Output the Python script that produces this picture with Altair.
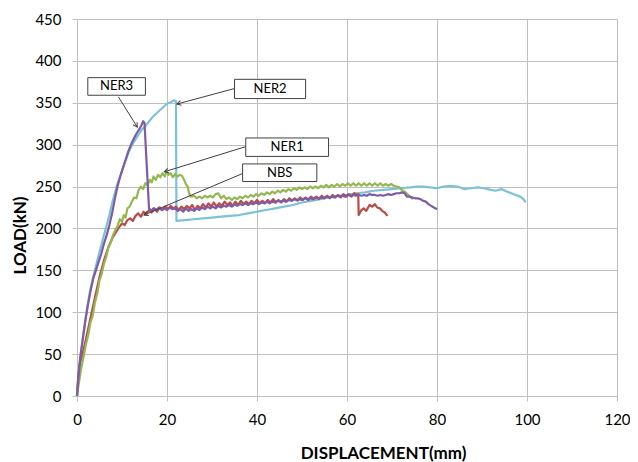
import math
import altair as alt
import pandas as pd

# ---------------- data ----------------
nbs_x = [0, 0.3, 0.6, 1, 2, 3, 4, 5, 6, 7, 8, 8.7, 9.3, 10, 10.6, 11.2, 11.8, 12.4, 13, 13.6,
         14.2, 14.8, 15.4, 16, 16.6, 17.2, 17.8, 18.4, 19, 19.6, 20.2, 20.8, 21.4, 22, 22.6,
         23.2, 23.8, 24.4, 25, 25.6, 26.2, 26.8, 27.4, 28, 28.6, 29.2, 29.8, 30.4, 31, 31.6,
         32.2, 32.8, 33.4, 34, 34.6, 35.2, 35.8, 36.4, 37, 37.6, 38.2, 38.8, 39.4, 40, 40.6,
         41.2, 41.8, 42.4, 43, 43.6, 44.2, 44.8, 45.4, 46, 46.6, 47.2, 47.8, 48.4, 49, 49.6,
         50.2, 50.8, 51.4, 52, 52.6, 53.2, 53.8, 54.4, 55, 55.6, 56.2, 56.8, 57.4, 58, 58.6,
         59.2, 59.8, 60.4, 61, 61.6, 62.2, 62.5, 62.6, 63.2, 63.7, 64.3, 65, 65.6, 66.2, 66.7,
         67.3, 67.8, 68.4, 69]
nbs_y = [0, 25, 38, 45, 68, 93, 118, 142, 162, 178, 190, 196, 201, 206, 204, 210, 212, 209, 215, 218,
         214, 220, 217, 222, 219, 224, 220, 225, 222, 226, 223, 227, 224, 226, 222,
         226, 223, 227, 224, 228, 222, 227, 224, 229, 225, 230, 226, 231, 226, 230,
         227, 232, 228, 231, 227, 232, 228, 233, 229, 232, 229, 233, 230, 234, 230,
         233, 230, 234, 231, 235, 231, 234, 231, 235, 232, 236, 233, 236, 233, 237,
         234, 237, 234, 238, 235, 238, 235, 239, 236, 239, 236, 240, 237, 240, 237,
         241, 238, 241, 238, 242, 240, 241, 216, 222, 224, 221, 228, 226, 229, 225,
         224, 221, 219, 215]

ner1_x = [0, 0.4, 1, 1.5, 2, 2.5, 3, 3.5, 4, 4.5, 5, 5.5, 6, 6.5, 7, 7.5, 8, 8.5, 9, 9.5, 10,
          10.4, 10.8, 11.2, 11.7, 12.2, 12.7, 13.2, 13.7, 14.2, 14.7, 15.2, 15.7, 16.2, 16.6,
          17, 17.5, 18, 18.5, 19, 19.5, 19.9, 20.3, 20.8, 21.3, 21.8, 22.3, 22.8, 23.3, 23.8,
          24.2, 24.6, 24.9, 25.3, 26, 26.6, 27.2, 27.8, 28.4, 29, 29.6, 30.2, 30.8, 31.4, 32,
          32.6, 33.2, 33.8, 34.4, 35, 35.6, 36.2, 36.8, 37.4, 38, 38.6, 39.2, 39.8, 40.4, 41,
          41.6, 42.2, 42.8, 43.4, 44, 44.6, 45.2, 45.8, 46.4, 47, 47.6, 48.2, 48.8, 49.4, 50,
          50.6, 51.2, 51.8, 52.4, 53, 53.6, 54.2, 54.8, 55.4, 56, 56.6, 57.2, 57.8, 58.4, 59,
          59.6, 60.2, 60.8, 61.4, 62, 62.6, 63.2, 63.8, 64.4, 65, 65.6, 66.2, 66.8, 67.4, 68,
          68.6, 69.2, 69.8, 70.4, 71, 71.6, 72.2, 72.8, 73.4, 74, 74.7]
ner1_y = [0, 15, 35, 48, 62, 73, 88, 96, 112, 122, 138, 146, 158, 166, 178, 183, 192, 198, 203, 211, 208,
          216, 213, 224, 226, 232, 237, 236, 246, 250, 247, 254, 252, 258, 255,
          262, 258, 264, 261, 266, 262, 268, 264, 266, 261, 265, 262, 264, 263, 258,
          253, 250, 242, 238, 239, 236, 238, 236, 239, 237, 239, 237, 241, 242, 236,
          239, 235, 237, 234, 237, 235, 238, 236, 239, 237, 240, 238, 241, 239, 242,
          240, 243, 241, 244, 242, 245, 243, 246, 244, 247, 245, 248, 246, 249, 247,
          249, 247, 250, 248, 250, 248, 251, 249, 252, 249, 252, 250, 253, 250, 253,
          251, 254, 251, 254, 251, 254, 251, 254, 251, 254, 251, 254, 251, 254, 251,
          253, 251, 253, 251, 250, 249, 246, 244, 241, 238, 235]

ner2_x = [0, 0.3, 0.7, 1.2, 1.8, 2.4, 3, 3.6, 4.2, 4.8, 5.4, 6, 6.6, 7.2, 7.8, 8.4, 9, 9.6, 10.2,
          10.8, 11.4, 12, 12.6, 13.2, 13.8, 14.4, 15, 15.6, 16.2, 16.8, 17.4, 18, 18.6, 19.2,
          19.8, 20.4, 21, 21.5, 22, 22.1, 24, 26, 28, 30, 32, 34, 36, 38, 40, 42, 44, 46, 48,
          50, 52, 54, 56, 58, 60, 62, 64, 66, 68, 70, 72, 74, 75.5, 77, 78.5, 80, 81.5, 83,
          84.5, 86, 87.5, 89, 90.5, 92, 93, 94.3, 95.5, 96.5, 97.5, 98.5, 99.2, 99.7]
ner2_y = [0, 25, 45, 65, 88, 110, 128, 142, 155, 168, 180, 192, 204, 216, 230, 242, 254, 262, 272,
          281, 290, 297, 303, 308, 313, 318, 321, 325, 329, 333, 336, 339, 342, 345,
          348, 350, 351, 353, 352, 209, 210, 211, 212, 213, 214, 215, 216, 218, 220, 222, 224, 226, 228,
          231, 233, 235, 237, 239, 240, 242, 243, 245, 246, 247, 248, 249, 250, 250, 249, 248, 250, 251,
          250, 247, 248, 249, 248, 246, 245, 247, 244, 242, 240, 238, 235, 231]

ner3_x = [0, 0.3, 0.7, 1.2, 1.8, 2.4, 3, 3.6, 4.2, 4.8, 5.4, 6, 6.6, 7.2, 7.8, 8.4, 9, 9.6, 10.2,
          10.8, 11.4, 12, 12.6, 13.2, 13.8, 14.3, 14.7, 15.0, 16.0, 16.5, 17, 17.6, 18.2, 18.8,
          19.4, 20, 20.6, 21.2, 21.8, 22.4, 23, 23.6, 24.2, 24.8, 25.4, 26, 26.6, 27.2, 27.8,
          28.4, 29, 29.6, 30.2, 30.8, 31.4, 32, 32.6, 33.2, 33.8, 34.4, 35, 35.6, 36.2, 36.8,
          37.4, 38, 38.6, 39.2, 39.8, 40.4, 41, 41.6, 42.2, 42.8, 43.4, 44, 44.6, 45.2, 45.8,
          46.4, 47, 47.6, 48.2, 48.8, 49.4, 50, 50.6, 51.2, 51.8, 52.4, 53, 53.6, 54.2, 54.8,
          55.4, 56, 56.6, 57.2, 57.8, 58.4, 59, 59.6, 60.2, 60.8, 61.4, 62, 62.6, 63.2, 63.8,
          64.4, 65, 65.6, 66.2, 66.8, 67.4, 68, 68.6, 69.2, 69.8, 70.4, 71, 71.6, 72.2, 72.8,
          73.3, 73.9, 74.5, 75.1, 75.7, 76.3, 76.9, 77.5, 78.1, 78.7, 79.3, 80]
ner3_y = [0, 20, 45, 65, 88, 108, 125, 140, 150, 160, 170, 182, 192, 204, 218, 235, 250, 262, 272,
          282, 292, 300, 307, 313, 318, 323, 328, 326, 224, 221, 224, 222, 225, 222,
          224, 222, 225, 223, 224, 221, 223, 220, 224, 221, 223, 221, 224, 222, 225,
          223, 226, 224, 226, 224, 227, 225, 227, 226, 228, 226, 229, 227, 229, 228,
          230, 228, 230, 229, 231, 229, 231, 230, 232, 230, 232, 231, 233, 232, 233,
          232, 234, 233, 235, 234, 235, 234, 236, 235, 236, 235, 237, 236, 237, 236,
          238, 237, 238, 237, 239, 238, 239, 238, 240, 239, 240, 239, 240, 239, 240,
          239, 241, 240, 240, 239, 240, 239, 240, 241, 240, 241, 242, 242, 243, 242,
          238, 238, 237, 236, 236, 235, 233, 232, 229, 227, 225, 223]

# annotation boxes (data coordinates) and labels
box_names = ["NER3", "NER2", "NER1", "NBS"]
box_x1 = [2.4, 35.0, 37.5, 36.8]
box_x2 = [15.2, 50.8, 55.9, 53.3]
box_y1 = [359, 355, 286, 256]
box_y2 = [380, 378, 308, 277]
# arrows: start (at box) -> end (on curve)
arr_sx = [9.2, 35.0, 37.7, 37.0]
arr_sy = [357, 367, 298, 266]
arr_ex = [13.4, 22.2, 19.4, 14.9]
arr_ey = [321, 348.5, 267.6, 216]

series_names = ["NER2", "NBS", "NER1", "NER3"]
series_colors = ["#7CC2D6", "#BC4A47", "#93B850", "#7D5CA6"]
series_x = [ner2_x, nbs_x, ner1_x, ner3_x]
series_y = [ner2_y, nbs_y, ner1_y, ner3_y]

# ---------------- chart ----------------
W, H = 540, 377
XMAX, YMAX = 120, 450
FONT = "Lato"
GRID = "#BFBFBF"

xscale = alt.Scale(domain=[0, XMAX], nice=False)
yscale = alt.Scale(domain=[0, YMAX], nice=False)

xaxis = alt.Axis(values=list(range(0, 121, 20)), title="DISPLACEMENT(mm)", grid=True,
                 gridColor=GRID, domainColor=GRID, tickColor=GRID, tickSize=5,
                 labelFont=FONT, labelFontSize=15, labelColor="#000000", labelPadding=11,
                 labelFlush=False, labelOverlap=False,
                 titleFont=FONT, titleFontSize=17, titleFontWeight="bold", titleColor="#000000",
                 titleX=306, titleY=62, titleBaseline="alphabetic", titleAnchor="middle")
yaxis = alt.Axis(values=list(range(0, 451, 50)), title="LOAD(kN)", grid=True,
                 gridColor=GRID, domainColor=GRID, tickColor=GRID, tickSize=5,
                 labelFont=FONT, labelFontSize=15, labelColor="#000000", labelPadding=11,
                 labelFlush=False, labelOverlap=False,
                 titleFont=FONT, titleFontSize=17, titleFontWeight="bold", titleColor="#000000",
                 titleX=-52, titleY=216, titleBaseline="alphabetic", titleAngle=-90,
                 titleAlign="center")


def X(field):
    return alt.X(field, scale=xscale, axis=xaxis, title="DISPLACEMENT(mm)")


def Y(field):
    return alt.Y(field, scale=yscale, axis=yaxis, title="LOAD(kN)")


layers = []
for name, col, xs, ys in zip(series_names, series_colors, series_x, series_y):
    d = pd.DataFrame({"x": xs, "y": ys, "i": list(range(len(xs)))})
    layers.append(
        alt.Chart(d).mark_line(color=col, strokeWidth=2.2, strokeJoin="round").encode(
            x=X("x:Q"), y=Y("y:Q"), order="i:Q",
        )
    )

# arrows
angles = []
for sx, sy, ex, ey in zip(arr_sx, arr_sy, arr_ex, arr_ey):
    dx = (ex - sx) * W / XMAX
    dys = -(ey - sy) * H / YMAX
    angles.append(math.degrees(math.atan2(dx, -dys)) % 360)
arr_df = pd.DataFrame({"x": arr_sx, "y": arr_sy, "ex": arr_ex, "ey": arr_ey, "ang": angles})
layers.append(
    alt.Chart(arr_df).mark_rule(color="#404040", strokeWidth=1).encode(
        x=X("x:Q"), x2="ex:Q", y=Y("y:Q"), y2="ey:Q",
    )
)
head_df = pd.DataFrame({"x": arr_ex, "y": arr_ey, "ang": angles})
layers.append(
    alt.Chart(head_df).mark_point(shape="M -0.55 1 L 0 0 L 0.55 1", filled=False,
                                  color="#404040", strokeWidth=1, size=70, opacity=1).encode(
        x=X("x:Q"), y=Y("y:Q"), angle=alt.Angle("ang:Q", scale=None),
    )
)

box_df = pd.DataFrame({"name": box_names, "x": box_x1, "x2": box_x2, "y": box_y1, "y2": box_y2})
layers.append(
    alt.Chart(box_df).mark_rect(fill="white", stroke="#404040", strokeWidth=1).encode(
        x=X("x:Q"), x2="x2:Q", y=Y("y:Q"), y2="y2:Q",
    )
)
txt_df = pd.DataFrame({"name": box_names,
                       "x": [(a + b) / 2 for a, b in zip(box_x1, box_x2)],
                       "y": [(a + b) / 2 for a, b in zip(box_y1, box_y2)]})
layers.append(
    alt.Chart(txt_df).mark_text(font=FONT, fontSize=13, color="#000000",
                                align="center", baseline="middle").encode(
        x=X("x:Q"), y=Y("y:Q"), text="name:N",
    )
)

chart = alt.layer(*layers).properties(
    width=W, height=H,
    autosize=alt.AutoSizeParams(type="none"),
    padding={"left": 69, "top": 11, "right": 13, "bottom": 66},
    background="white",
).configure_view(stroke=None)

chart.save("out.html", embed_options={"renderer": "svg", "actions": False})
